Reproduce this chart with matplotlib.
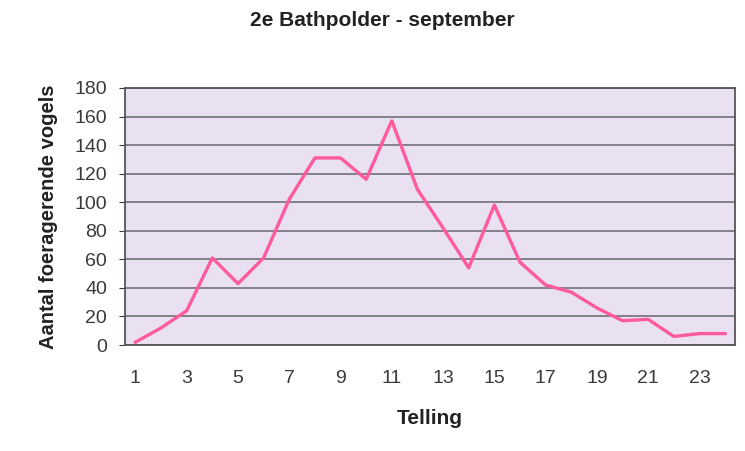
import matplotlib
matplotlib.use("Agg")
import matplotlib.pyplot as plt

plt.rcParams['font.family'] = ['Liberation Sans', 'DejaVu Sans']

telling = list(range(1, 25))
vogels = [2, 12, 24, 61, 43, 61, 102, 131, 131, 116, 157, 109,
          82, 54, 98, 58, 42, 37, 26, 17, 18, 6, 8, 8]
xticks = list(range(1, 24, 2))
yticks = list(range(0, 181, 20))

fig = plt.figure(figsize=(7.45, 4.51), dpi=100)
ax = fig.add_axes([0.168, 0.235, 0.819, 0.57])
ax.set_facecolor('#e9e1f1')

ax.plot(telling, vogels, color='#ff5a9c', linewidth=2.4, zorder=3)

ax.set_xlim(0.6, 24.4)
ax.set_ylim(0, 180)
ax.set_xticks(xticks)
ax.set_yticks(yticks)
ax.tick_params(axis='x', length=0, pad=18, labelsize=14, colors='#3a3a3a')
ax.tick_params(axis='y', length=4, direction='out', pad=9, labelsize=14, colors='#3a3a3a')
ax.grid(axis='y', color='#66666c', linewidth=1.1, zorder=1)
for s in ax.spines.values():
    s.set_color('#555555')
    s.set_linewidth(1.3)

fig.text(0.577, 0.073, 'Telling', ha='center', va='center',
         fontsize=15, fontweight='bold', color='#222222')
fig.text(0.065, 0.52, 'Aantal foeragerende vogels', ha='center', va='center',
         rotation=90, fontsize=14.5, fontweight='bold', color='#222222')
fig.text(0.513, 0.955, '2e Bathpolder - september', ha='center', va='center',
         fontsize=15, fontweight='bold', color='#222222')

fig.savefig('out.png', dpi=100)
